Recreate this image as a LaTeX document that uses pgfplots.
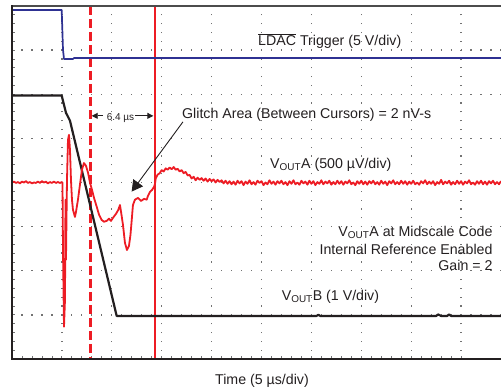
\documentclass[border=0pt]{standalone}
\usepackage{fontspec}
\setmainfont{Liberation Sans}
\usepackage{pgfplots}
\pgfplotsset{compat=1.18}
\usetikzlibrary{arrows.meta}
\definecolor{tired}{HTML}{ED1C24}
\definecolor{tiblue}{HTML}{2E3192}
\definecolor{tiblack}{HTML}{231F20}
\tikzset{lbl/.style={inner sep=0pt, text=tiblack, font=\fontsize{14.2}{17}\selectfont}}
\begin{document}
\begin{tikzpicture}
\begin{axis}[
  width=489pt, height=353pt, scale only axis,
  xmin=0, xmax=49, ymin=0, ymax=8,
  axis line style={draw=none},
  xtick={0,5,...,45}, ytick={0,1,...,8},
  minor x tick num=4, minor y tick num=4,
  xticklabels={}, yticklabels={},
  tick align=inside, xtick pos=left, ytick pos=left,
  major tick length=3pt, minor tick length=3pt,
  tick style={black!55, line width=0.8pt},
  grid=major,
  x grid style={draw=black!55, line width=1.3pt, dash pattern=on 1.2pt off 7.625pt, dash phase=0.6pt},
  y grid style={draw=black!55, line width=1.3pt, dash pattern=on 1.2pt off 8.78pt, dash phase=0.6pt},
  clip=false,
]
\coordinate (sw) at (rel axis cs:0,0);
\coordinate (ne) at (rel axis cs:1,1);

% cursors
\draw[tired, line width=2.2pt, dash pattern=on 9pt off 4pt] (7.86,8) -- (7.86,0);
\draw[tired, line width=1.3pt] (14.33,8) -- (14.33,0);

% LDAC trigger
\addplot[tiblue, line width=1.7pt, line join=round] coordinates {
(0,7.91) (4.98,7.91) (5.11,7.01) (5.21,6.80) (6.11,6.80) (6.21,6.82) (49,6.82)};

% VOUT B
\addplot[tiblack, line width=2.2pt, line join=round] coordinates {
(0,5.97) (4.98,5.97) (5.21,5.76) (5.41,5.58) (5.81,5.40) (10.49,0.975)
(30.5,0.975) (30.7,1.0) (30.9,0.975) (42.5,0.975) (42.7,1.01) (43.0,0.975)
(43.6,0.975) (43.8,1.01) (44.0,0.975) (49,0.975)};

% VOUT A
\addplot[tired, line width=1.8pt, line join=round] coordinates {
(0.0,4.00) (0.2,4.02) (0.4,3.99) (0.6,4.01) (0.8,3.98) (1.0,4.02) (1.2,4.00) (1.4,4.03)
(1.6,3.99) (1.8,4.01) (2.0,3.98) (2.2,4.00) (2.4,3.99) (2.6,4.02) (2.8,3.99) (3.0,4.03)
(3.2,4.00) (3.4,4.02) (3.6,3.98) (3.8,4.01) (4.0,3.99) (4.2,4.02) (4.4,3.99) (4.6,4.01)
(4.8,3.99) (5.0,4.01)
(5.06,3.99) (5.11,2.47) (5.21,0.73) (5.31,1.34) (5.36,3.61) (5.41,2.25) (5.51,4.06)
(5.61,4.97) (5.71,5.08) (5.81,4.74) (5.91,4.06) (6.01,3.61) (6.11,3.38) (6.31,3.22)
(6.41,3.33) (6.61,3.61) (6.81,3.95) (7.01,4.29) (7.21,4.44) (7.41,4.38) (7.62,4.22)
(7.82,3.99) (8.02,3.83) (8.22,3.65) (8.49,3.45) (8.72,3.27) (8.99,3.15) (9.22,3.11)
(9.49,3.13) (9.72,3.18) (9.92,3.13) (10.12,3.20) (10.42,3.29) (10.65,3.38) (10.82,3.49)
(10.97,3.27) (11.12,3.04) (11.32,2.63) (11.52,2.47) (11.72,2.56) (11.87,2.81) (11.99,3.13)
(12.12,3.49) (12.32,3.61) (12.63,3.65) (12.93,3.58) (13.23,3.63) (13.50,3.61) (13.63,3.70)
(13.83,3.79) (14.03,3.83) (14.23,3.90) (14.33,3.97)
(14.4,4.09) (14.6,4.18) (14.8,4.21) (15.0,4.28) (15.2,4.25) (15.4,4.32) (15.6,4.29) (15.8,4.34)
(16.0,4.30) (16.2,4.35) (16.4,4.29) (16.6,4.31) (16.8,4.25) (17.0,4.28) (17.2,4.21) (17.4,4.24)
(17.6,4.16) (17.8,4.17) (18.0,4.09) (18.2,4.13) (18.4,4.05) (18.6,4.11) (18.8,4.06) (19.0,4.10)
(19.2,4.04) (19.4,4.09) (19.6,4.02) (19.8,4.08) (20.0,4.03) (20.2,4.07) (20.4,4.00) (20.6,4.06)
(20.8,4.01) (21.0,4.05) (21.2,3.98) (21.4,4.04) (21.6,3.97) (21.8,4.03) (22.0,3.96) (22.2,4.02)
(22.4,3.95) (22.6,4.04) (22.8,3.98) (23.0,4.03) (23.2,3.94) (23.4,4.02) (23.6,3.97) (23.8,4.05)
(24.0,3.96) (24.2,4.01) (24.4,3.95) (24.6,4.04) (24.8,3.99) (25.0,4.03) (25.2,3.94) (25.4,4.00)
(25.6,3.96) (25.8,4.05) (26.0,3.97) (26.2,4.02) (26.4,3.95) (26.6,4.03) (26.8,3.98) (27.0,4.04)
(27.2,3.96) (27.4,4.01) (27.6,3.94) (27.8,4.03) (28.0,3.97) (28.2,4.05) (28.4,3.96) (28.6,4.00)
(28.8,3.95) (29.0,4.04) (29.2,3.98) (29.4,4.02) (29.6,3.95) (29.8,4.04) (30.0,3.97) (30.2,4.03)
(30.4,3.94) (30.6,4.01) (30.8,3.97) (31.0,4.05) (31.2,3.96) (31.4,4.02) (31.6,3.98) (31.8,4.04)
(32.0,3.95) (32.2,4.01) (32.4,3.96) (32.6,4.04) (32.8,3.97) (33.0,4.03) (33.2,3.95) (33.4,4.02)
(33.6,3.98) (33.8,4.05) (34.0,3.96) (34.2,4.00) (34.4,3.94) (34.6,4.03) (34.8,3.97) (35.0,4.04)
(35.2,3.96) (35.4,4.02) (35.6,3.95) (35.8,4.03) (36.0,3.98) (36.2,4.04) (36.4,3.96) (36.6,4.01)
(36.8,3.95) (37.0,4.04) (37.2,3.97) (37.4,4.02) (37.6,3.94) (37.8,4.03) (38.0,3.98) (38.2,4.05)
(38.4,3.96) (38.6,4.01) (38.8,3.96) (39.0,4.04) (39.2,3.97) (39.4,4.03) (39.6,3.95) (39.8,4.02)
(40.0,3.97) (40.2,4.04) (40.4,3.96) (40.6,4.00) (40.8,3.95) (41.0,4.03) (41.2,3.98) (41.4,4.05)
(41.6,3.96) (41.8,4.02) (42.0,3.97) (42.2,4.03) (42.4,3.94) (42.6,4.01) (42.8,3.97) (43.0,4.06)
(43.2,3.96) (43.4,4.02) (43.6,3.98) (43.8,4.04) (44.0,3.95) (44.2,4.01) (44.4,3.96) (44.6,4.04)
(44.8,3.97) (45.0,4.03) (45.2,3.95) (45.4,4.02) (45.6,3.98) (45.8,4.05) (46.0,3.96) (46.2,4.00)
(46.4,3.95) (46.6,4.03) (46.8,3.97) (47.0,4.04) (47.2,3.96) (47.4,4.02) (47.6,3.95) (47.8,4.03)
(48.0,3.98) (48.2,4.04) (48.4,3.96) (48.6,4.01) (48.8,3.96) (49.0,4.03)};

% frame
\draw[black!70, line width=1.4pt] (rel axis cs:0,1) -- (rel axis cs:1,1);
\draw[tiblack, line width=2.3pt, line cap=rect] (rel axis cs:0,1) -- (rel axis cs:0,0) -- (rel axis cs:1,0);

% annotations
\draw[tiblack, line width=0.9pt, -{Triangle[length=6pt,width=6pt]}] (9.12,5.51) -- (7.99,5.51);
\draw[tiblack, line width=0.9pt, -{Triangle[length=6pt,width=6pt]}] (12.32,5.51) -- (14.16,5.51);
\node[lbl, anchor=base, font=\fontsize{10}{12}\selectfont] at (10.87,5.404) {6.4 µs};
\draw[tiblack, line width=0.9pt, -{Triangle[length=11pt,width=12pt]}] (17.13,5.374) -- (11.99,3.794);

\node[lbl, anchor=base west] at (24.65,7.098) {$\overline{\mbox{LDAC}}$ Trigger (5 V/div)};
\node[lbl, anchor=base west] at (17.03,5.458) {Glitch Area (Between Cursors) = 2 nV-s};
\node[lbl, anchor=base west] at (25.85,4.324) {V\textsubscript{OUT}A (500 µV/div)};
\node[lbl, anchor=base west] at (27.02,1.322) {V\textsubscript{OUT}B (1 V/div)};
\node[lbl, anchor=base east] at (48.17,2.778) {V\textsubscript{OUT}A at Midscale Code};
\node[lbl, anchor=base east] at (48.17,2.358) {Internal Reference Enabled};
\node[lbl, anchor=base east] at (48.17,1.995) {Gain = 2};
\node[lbl, anchor=base] at (25.05,-0.567) {Time (5 µs/div)};
\end{axis}
\pgfresetboundingbox
\path[use as bounding box] ([xshift=-12pt,yshift=-32pt]sw) rectangle ([yshift=6pt]ne);
\end{tikzpicture}
\end{document}
